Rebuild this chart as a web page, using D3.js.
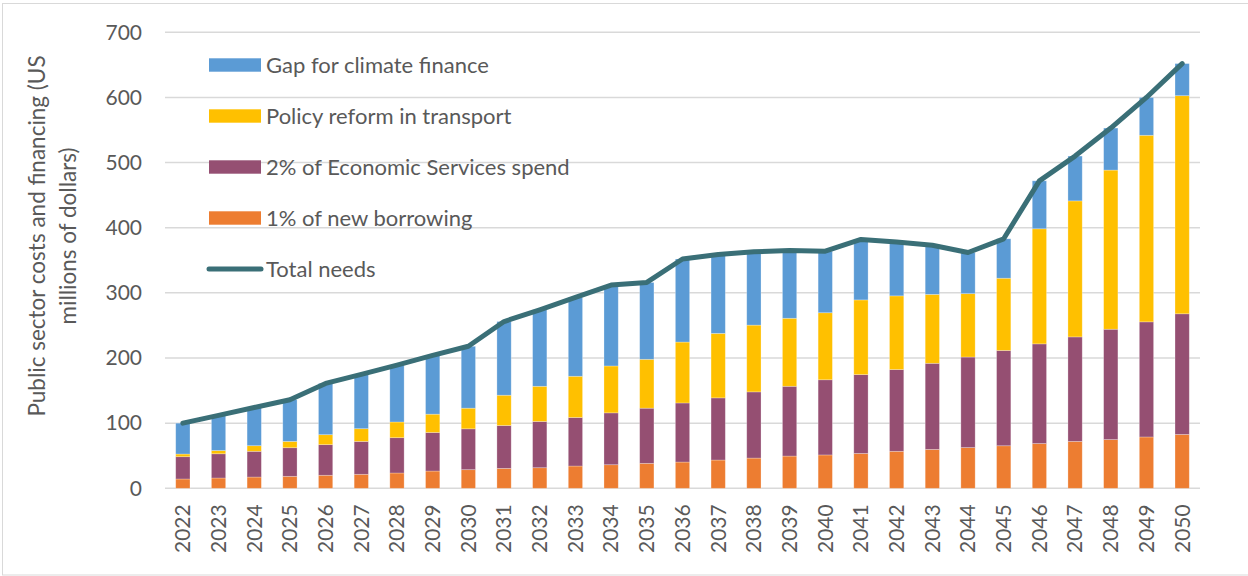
<!DOCTYPE html>
<html>
<head>
<meta charset="utf-8">
<script src="https://cdn.jsdelivr.net/npm/d3@7"></script>
<style>
  body { margin: 0; background: #fff; }
  svg { display: block; font-family: Lato, "Open Sans", sans-serif; }
</style>
</head>
<body>
<svg id="chart" width="1248" height="576"></svg>
<script>
const years = d3.range(2022, 2051).map(String);

// 1% of new borrowing
const borrowing = [14.3, 15.8, 17.3, 18.4, 20, 21.5, 23.5, 26.5, 28.6, 30.6, 31.6, 34.2, 36.2, 38.3, 40.3,
  43.4, 46.4, 49.5, 51.2, 53.5, 56.8, 59.7, 62.5, 65.3, 68.7, 72, 74.8, 78.8, 82.7];
// 2% of Economic Services spend
const econServices = [34.2, 37.2, 39.5, 43.9, 47, 50.5, 54.2, 59.2, 62.7, 65.8, 71, 74.5, 79.6, 84.7, 90.7,
  95.4, 101.6, 107.1, 115.4, 121, 125.5, 132.2, 139, 146.3, 153, 160.4, 169.4, 176.7, 185.2];
// Policy reform in transport
const transport = [4.1, 5, 8.6, 9.7, 15.3, 19.5, 24.1, 28.1, 31.7, 46.5, 54, 63.3, 72, 75, 93.5,
  99, 102.5, 104.4, 102.9, 114.7, 113.1, 105.8, 97.3, 110.9, 176.7, 208.8, 244.3, 286.4, 334.8];
// Gap for climate finance
const gap = [47.4, 54, 58.6, 64, 78.7, 83.5, 87.2, 90.2, 95, 113.1, 117.4, 121, 124.2, 118, 127.5,
  121.2, 112.5, 104, 94.5, 92.8, 82.6, 75.3, 63.2, 60.5, 73.6, 68.8, 64.5, 58.1, 49.3];
// Total needs
const totalNeeds = [100, 112, 124, 136, 161, 175, 189, 204, 218, 256, 274, 293, 312, 316, 352,
  359, 363, 365, 364, 382, 378, 373, 362, 383, 472, 510, 553, 600, 652];

const yTicks = [0, 100, 200, 300, 400, 500, 600, 700];

const seriesKeys = ["borrowing", "econServices", "transport", "gap"];
const seriesNames = {
  gap: "Gap for climate finance",
  transport: "Policy reform in transport",
  econServices: "2% of Economic Services spend",
  borrowing: "1% of new borrowing"
};
const colors = {
  borrowing: "#ED7D31",
  econServices: "#954F72",
  transport: "#FFC000",
  gap: "#5B9BD5"
};
const lineColor = "#3A6F77";
const textColor = "#595959";

const rows = years.map((y, i) => ({
  year: y,
  borrowing: borrowing[i],
  econServices: econServices[i],
  transport: transport[i],
  gap: gap[i],
  total: totalNeeds[i]
}));

const svg = d3.select("#chart");
const margin = { left: 165, right: 48, top: 32.3, bottom: 87.7 };
const W = 1248, H = 576;

// outer frame
svg.append("rect")
  .attr("x", 2.5).attr("y", 3.5)
  .attr("width", 1260).attr("height", 571.5)
  .attr("fill", "none").attr("stroke", "#D9D9D9").attr("stroke-width", 1);

const x = d3.scaleBand()
  .domain(years)
  .range([margin.left, W - margin.right])
  .paddingInner(0.6)
  .paddingOuter(0.3);

const y = d3.scaleLinear()
  .domain([0, 700])
  .range([H - margin.bottom, margin.top]);

// gridlines
svg.append("g")
  .selectAll("line")
  .data(yTicks)
  .join("line")
  .attr("x1", margin.left).attr("x2", W - margin.right)
  .attr("y1", d => y(d)).attr("y2", d => y(d))
  .attr("stroke", "#D9D9D9").attr("stroke-width", 1.5);

// y axis labels
const yAxis = svg.append("g")
  .attr("transform", `translate(${margin.left - 23},0)`)
  .call(d3.axisLeft(y).tickValues(yTicks).tickSize(0).tickPadding(0));
yAxis.select(".domain").remove();
yAxis.selectAll("text")
  .attr("fill", textColor)
  .style("font-size", "21px")
  .style("font-family", "Lato, 'Open Sans', sans-serif");

// stacked bars
const stack = d3.stack().keys(seriesKeys);
const stacked = stack(rows);

svg.append("g")
  .selectAll("g")
  .data(stacked)
  .join("g")
  .attr("fill", d => colors[d.key])
  .selectAll("rect")
  .data(d => d)
  .join("rect")
  .attr("x", d => x(d.data.year))
  .attr("width", x.bandwidth())
  .attr("y", d => y(d[1]))
  .attr("height", d => y(d[0]) - y(d[1]))
  .attr("stroke", "rgba(255,255,255,0.35)")
  .attr("stroke-width", 0.75);

// x axis labels
const xAxis = svg.append("g")
  .attr("transform", `translate(0,${y(0)})`)
  .call(d3.axisBottom(x).tickSize(0).tickPadding(0));
xAxis.select(".domain").remove();
xAxis.selectAll("text")
  .attr("fill", textColor)
  .style("font-size", "21px")
  .style("font-family", "Lato, 'Open Sans', sans-serif")
  .attr("transform", "rotate(-90)")
  .attr("text-anchor", "end")
  .attr("x", -16)
  .attr("y", 0)
  .attr("dy", "0.35em");

// total needs line
const line = d3.line()
  .x(d => x(d.year) + x.bandwidth() / 2)
  .y(d => y(d.total));

svg.append("path")
  .datum(rows)
  .attr("d", line)
  .attr("fill", "none")
  .attr("stroke", lineColor)
  .attr("stroke-width", 5)
  .attr("stroke-linecap", "round")
  .attr("stroke-linejoin", "round");

// y axis title
const title = svg.append("text")
  .attr("transform", "translate(0,236) rotate(-90)")
  .attr("text-anchor", "middle")
  .attr("fill", textColor)
  .style("font-size", "22.5px");
title.append("tspan").attr("x", 0).attr("y", 45).text("Public sector costs and financing (US");
title.append("tspan").attr("x", 0).attr("y", 76).text("millions of dollars)");

// legend
const legendItems = ["gap", "transport", "econServices", "borrowing", "total"];
const legend = svg.append("g");
legendItems.forEach((k, i) => {
  const cy = 65 + i * 51;
  if (k === "total") {
    legend.append("line")
      .attr("x1", 209).attr("x2", 261)
      .attr("y1", cy).attr("y2", cy)
      .attr("stroke", lineColor).attr("stroke-width", 5)
      .attr("stroke-linecap", "round");
  } else {
    legend.append("rect")
      .attr("x", 209).attr("y", cy - 6.7)
      .attr("width", 52).attr("height", 13.4)
      .attr("fill", colors[k]);
  }
  legend.append("text")
    .attr("x", 266).attr("y", cy)
    .attr("dy", "0.35em")
    .attr("fill", textColor)
    .style("font-size", "22px")
    .text(k === "total" ? "Total needs" : seriesNames[k]);
});
</script>
</body>
</html>
